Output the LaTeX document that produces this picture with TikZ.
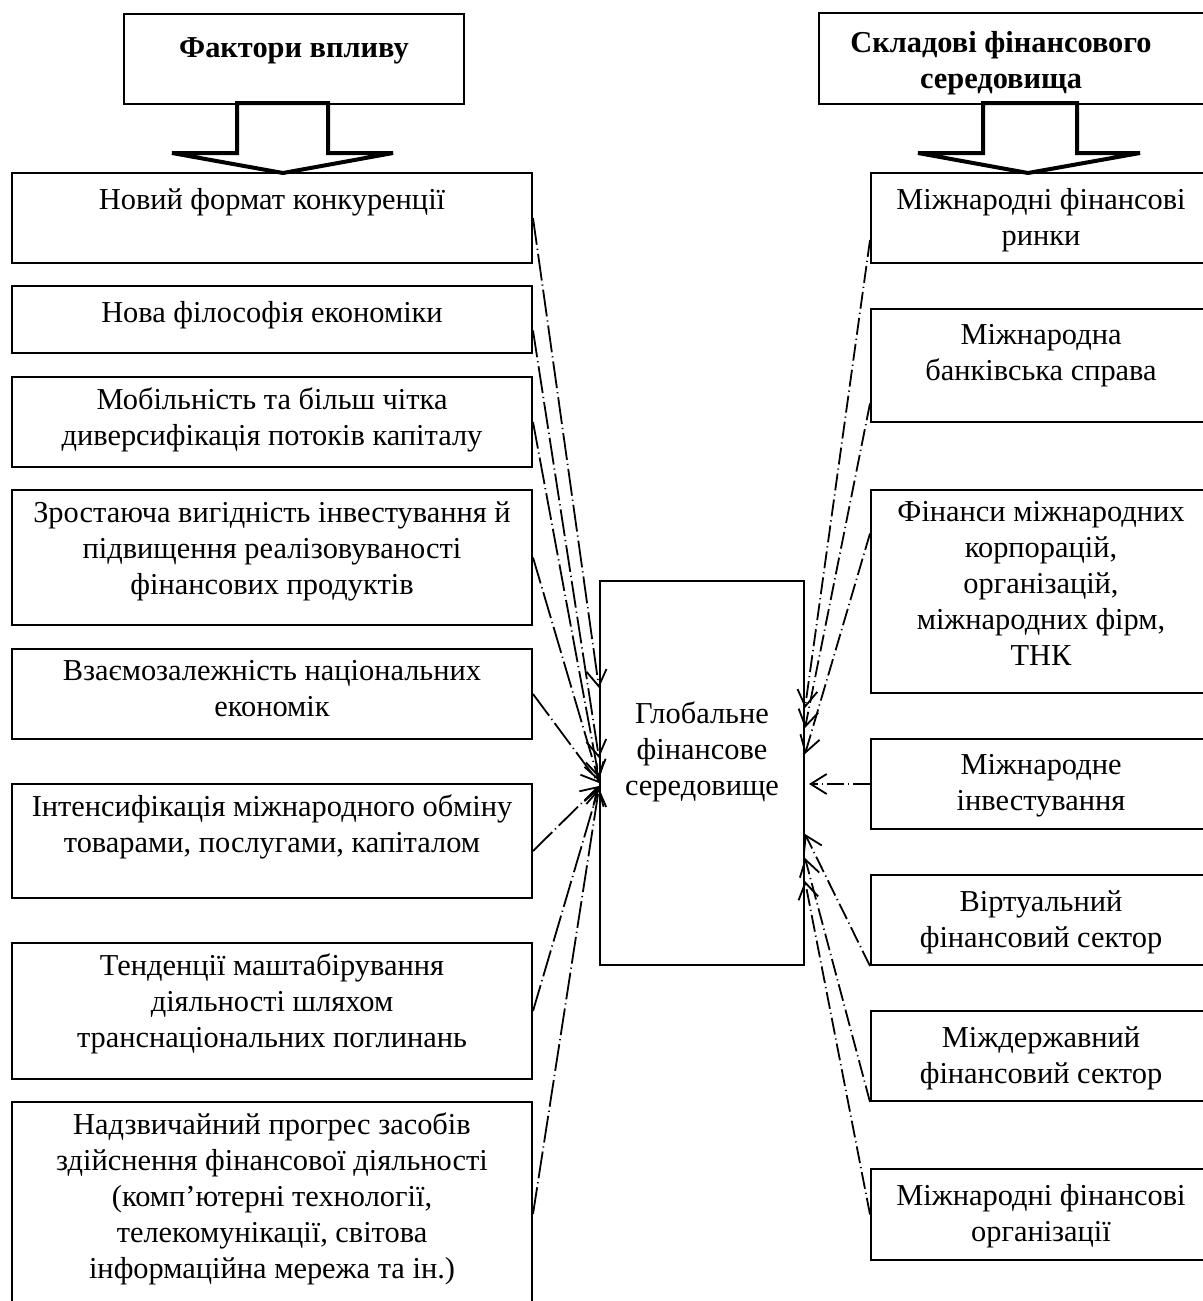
\documentclass[tikz,border=0pt]{standalone}
\usepackage{fontspec}
\setmainfont{Liberation Serif}
\usetikzlibrary{arrows.meta,calc}

\begin{document}
\begin{tikzpicture}[x=0.5pt,y=-0.5pt]
	\tikzstyle{box} = [draw,line width=1pt,anchor=north west,inner sep=0pt]
	\tikzstyle{txt} = [font=\fontsize{15.2}{18}\selectfont,align=center,inner sep=0pt,anchor=north,yshift=-5.9pt,execute at begin node=\strut]
	\tikzstyle{rtxt} = [txt,yshift=-2pt]
	\tikzstyle{head} = [txt,font=\fontsize{15.2}{18}\selectfont\bfseries,yshift=-3.6pt]
	\tikzstyle{link} = [line width=0.9pt,dash pattern=on 13.5pt off 2pt on 0.6pt off 2pt,-{Straight Barb[length=8pt,width=10pt]}]
	\tikzstyle{rlink} = [link,dash pattern=on 8.5pt off 2pt on 0.6pt off 2pt]
	\tikzstyle{fat} = [draw,line width=2pt,fill=white,line join=miter]

	\useasboundingbox (0,0) rectangle (1203,1301);
	\clip (0,0) rectangle (1203,1301);

	% headers
	\node[box,minimum width=170pt,minimum height=45pt,label={[head]north:Фактори впливу}] (HL) at (123,13) {};
	\node[box,minimum width=196pt,minimum height=45.5pt,label={[head,xshift=-7pt]north:Складові фінансового\\середовища}] (HR) at (818,12) {};

	% left column
	\node[box,minimum width=260pt,minimum height=45pt,label={[txt]north:Новий формат конкуренції}] (L1) at (11,172) {};
	\node[box,minimum width=260pt,minimum height=33.5pt,label={[txt]north:Нова філософія економіки}] (L2) at (11,285) {};
	\node[box,minimum width=260pt,minimum height=45pt,label={[txt]north:Мобільність та більш чітка\\диверсифікація потоків капіталу}] (L3) at (11,376) {};
	\node[box,minimum width=260pt,minimum height=67.5pt,label={[txt]north:Зростаюча вигідність інвестування й\\підвищення реалізовуваності\\фінансових продуктів}] (L4) at (11,489) {};
	\node[box,minimum width=260pt,minimum height=45pt,label={[txt]north:Взаємозалежність національних\\економік}] (L5) at (11,648) {};
	\node[box,minimum width=260pt,minimum height=57pt,label={[txt]north:Інтенсифікація міжнародного обміну\\товарами, послугами, капіталом}] (L6) at (11,783) {};
	\node[box,minimum width=260pt,minimum height=68pt,label={[txt]north:Тенденції маштабірування\\діяльності шляхом\\транснаціональних поглинань}] (L7) at (11,942) {};
	\node[box,minimum width=260pt,minimum height=112pt,label={[txt]north:Надзвичайний прогрес засобів\\здійснення фінансової діяльності\\(комп’ютерні технології,\\телекомунікації, світова\\інформаційна мережа та ін.)}] (L8) at (11,1101) {};

	% centre
	\node[box,minimum width=102pt,minimum height=192pt,label={[txt,yshift=-55pt]north:Глобальне\\фінансове\\середовище}] (G) at (599,580) {};

	% right column
	\node[box,minimum width=170pt,minimum height=45pt,label={[rtxt]north:Міжнародні фінансові\\ринки}] (R1) at (870,172) {};
	\node[box,minimum width=170pt,minimum height=56.5pt,label={[rtxt]north:Міжнародна\\банківська справа}] (R2) at (870,308) {};
	\node[box,minimum width=170pt,minimum height=101.5pt,label={[txt]north:Фінанси міжнародних\\корпорацій,\\організацій,\\міжнародних фірм,\\ТНК}] (R3) at (870,489) {};
	\node[box,minimum width=170pt,minimum height=45pt,label={[rtxt]north:Міжнародне\\інвестування}] (R4) at (870,738) {};
	\node[box,minimum width=170pt,minimum height=45pt,label={[rtxt]north:Віртуальний\\фінансовий сектор}] (R5) at (870,874) {};
	\node[box,minimum width=170pt,minimum height=45pt,label={[rtxt]north:Міждержавний\\фінансовий сектор}] (R6) at (870,1010) {};
	\node[box,minimum width=170pt,minimum height=45.5pt,label={[rtxt]north:Міжнародні фінансові\\організації}] (R7) at (870,1168) {};

	% block arrows
	\draw[fat] (237,103) -- (328,103) -- (328,153) -- (393,153) -- (283,173) -- (172,153) -- (237,153) -- cycle;
	\draw[fat] (983,103) -- (1077,103) -- (1077,153) -- (1140,153) -- (1028,173) -- (918,153) -- (983,153) -- cycle;

	% factors -> centre
	\draw[link] (L1.east) -- ($(G.west)+(0,-85)$);
	\draw[link] ($(L2.east)+(0,11)$) -- ($(G.west)+(0,-15)$);
	\draw[link] (L3.east) -- ($(G.west)+(0,5)$);
	\draw[link] (L4.east) -- ($(G.west)+(0,8)$);
	\draw[link] (L5.east) -- ($(G.west)+(0,10)$);
	\draw[link] ($(L6.east)+(0,10)$) -- ($(G.west)+(0,13)$);
	\draw[link] (L7.east) -- ($(G.west)+(0,14)$);
	\draw[link] (L8.east) -- ($(G.west)+(0,15)$);

	% components -> centre
	\draw[rlink] ($(R1.west)+(0,22)$) -- ($(G.east)+(0,-65)$);
	\draw[rlink] ($(R2.west)+(0,38)$) -- ($(G.east)+(0,-45)$);
	\draw[rlink] ($(R3.west)+(0,-58)$) -- ($(G.east)+(0,-19)$);
	\draw[rlink,shorten >=2pt] (R4.west) -- ($(G.east)+(0,11)$);
	\draw[rlink] (R5.south west) -- ($(G.east)+(0,61)$);
	\draw[rlink] (R6.south west) -- ($(G.east)+(0,85)$);
	\draw[rlink] (R7.west) -- ($(G.east)+(0,108)$);
\end{tikzpicture}
\end{document}
